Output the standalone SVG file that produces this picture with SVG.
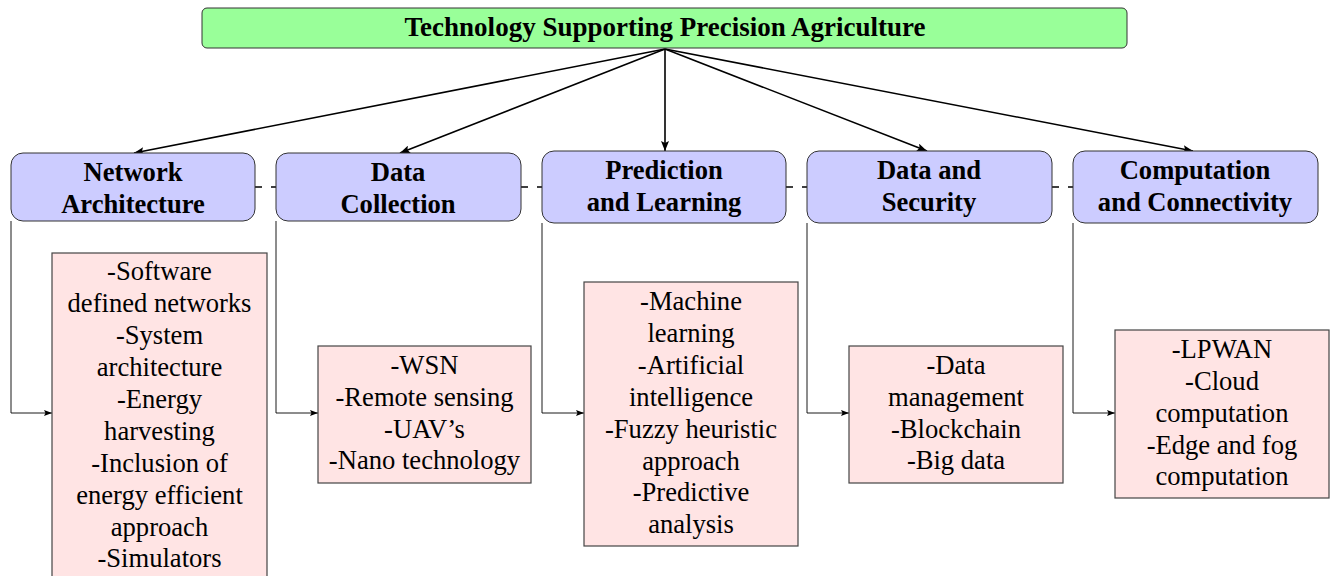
<svg xmlns="http://www.w3.org/2000/svg" width="1333" height="576" viewBox="0 0 1333 576" font-family="'Liberation Serif', Tinos, 'Times New Roman', serif">
<defs>
<marker id="ah" viewBox="0 0 10 8" refX="10" refY="4" markerWidth="10" markerHeight="8" markerUnits="userSpaceOnUse" orient="auto">
<path d="M0,0 L10,4 L0,8 L2,4 Z" fill="#000"/>
</marker>
<marker id="as" viewBox="0 0 8 6" refX="8" refY="3" markerWidth="8" markerHeight="6" markerUnits="userSpaceOnUse" orient="auto">
<path d="M0,0 L8,3 L0,6 L1.5,3 Z" fill="#000"/>
</marker>
</defs>
<style>
text{font-family:'Liberation Serif',Tinos,'Times New Roman',serif;fill:#000;text-anchor:middle}
.title{font-size:27px;font-weight:bold}
.cat{font-size:26.6px;font-weight:bold}
.item{font-size:26.6px}
.root{fill:#99ff99;stroke:#333;stroke-width:1}
.catbox{fill:#ccccff;stroke:#333;stroke-width:1}
.list{fill:#ffe4e4;stroke:#444;stroke-width:1.2}
.main{stroke:#000;stroke-width:1.6;fill:none;marker-end:url(#ah)}
.side{stroke:#000;stroke-width:0.9;fill:none;marker-end:url(#as)}
.dash{stroke:#000;stroke-width:1.6;fill:none;stroke-dasharray:7,9}
</style>
<rect width="1333" height="576" fill="#fff"/>
<g id="connectors">
<line class="main" x1="665" y1="49" x2="134" y2="153"/>
<line class="main" x1="665" y1="49" x2="400" y2="153"/>
<line class="main" x1="665" y1="49" x2="665" y2="151"/>
<line class="main" x1="665" y1="49" x2="927" y2="151"/>
<line class="main" x1="665" y1="49" x2="1193" y2="151"/>
<line class="dash" x1="255" y1="187" x2="276" y2="187"/>
<line class="dash" x1="521" y1="187" x2="542" y2="187"/>
<line class="dash" x1="786" y1="187" x2="807" y2="187"/>
<line class="dash" x1="1052" y1="187" x2="1073" y2="187"/>
<polyline class="side" points="11,221 11,413 52,413"/>
<polyline class="side" points="276,221 276,413 318,413"/>
<polyline class="side" points="542,223 542,413 584,413"/>
<polyline class="side" points="807,223 807,413 849,413"/>
<polyline class="side" points="1073,223 1073,413 1115,413"/>
</g>
<g id="root">
<rect class="root" x="202" y="8" width="925" height="40" rx="5"/>
<text class="title" x="665" y="36">Technology Supporting Precision Agriculture</text>
</g>
<g id="network-architecture">
<rect class="catbox" x="11" y="153" width="244" height="68" rx="12"/>
<text class="cat" x="133" y="181">Network</text>
<text class="cat" x="133" y="213">Architecture</text>
</g>
<g id="data-collection">
<rect class="catbox" x="276" y="153" width="245" height="68" rx="12"/>
<text class="cat" x="398" y="181">Data</text>
<text class="cat" x="398" y="213">Collection</text>
</g>
<g id="prediction-learning">
<rect class="catbox" x="542" y="151" width="244" height="72" rx="12"/>
<text class="cat" x="664" y="179">Prediction</text>
<text class="cat" x="664" y="211">and Learning</text>
</g>
<g id="data-security">
<rect class="catbox" x="807" y="151" width="245" height="72" rx="12"/>
<text class="cat" x="929" y="179">Data and</text>
<text class="cat" x="929" y="211">Security</text>
</g>
<g id="computation-connectivity">
<rect class="catbox" x="1073" y="151" width="245" height="72" rx="12"/>
<text class="cat" x="1195" y="179">Computation</text>
<text class="cat" x="1195" y="211">and Connectivity</text>
</g>
<g id="list-network">
<rect class="list" x="52" y="253" width="215" height="330"/>
<text class="item" x="159.5" y="280">-Software</text>
<text class="item" x="159.5" y="312">defined networks</text>
<text class="item" x="159.5" y="344">-System</text>
<text class="item" x="159.5" y="376">architecture</text>
<text class="item" x="159.5" y="408">-Energy</text>
<text class="item" x="159.5" y="440">harvesting</text>
<text class="item" x="159.5" y="472">-Inclusion of</text>
<text class="item" x="159.5" y="504">energy efficient</text>
<text class="item" x="159.5" y="536">approach</text>
<text class="item" x="159.5" y="567">-Simulators</text>
</g>
<g id="list-data-collection">
<rect class="list" x="318" y="346" width="213" height="137"/>
<text class="item" x="424.5" y="374">-WSN</text>
<text class="item" x="424.5" y="406">-Remote sensing</text>
<text class="item" x="424.5" y="438">-UAV’s</text>
<text class="item" x="424.5" y="469">-Nano technology</text>
</g>
<g id="list-prediction">
<rect class="list" x="584" y="282" width="214" height="264"/>
<text class="item" x="691" y="310">-Machine</text>
<text class="item" x="691" y="342">learning</text>
<text class="item" x="691" y="374">-Artificial</text>
<text class="item" x="691" y="406">intelligence</text>
<text class="item" x="691" y="438">-Fuzzy heuristic</text>
<text class="item" x="691" y="470">approach</text>
<text class="item" x="691" y="501">-Predictive</text>
<text class="item" x="691" y="533">analysis</text>
</g>
<g id="list-data-security">
<rect class="list" x="849" y="346" width="214" height="137"/>
<text class="item" x="956" y="374">-Data</text>
<text class="item" x="956" y="406">management</text>
<text class="item" x="956" y="438">-Blockchain</text>
<text class="item" x="956" y="469">-Big data</text>
</g>
<g id="list-computation">
<rect class="list" x="1115" y="330" width="214" height="168"/>
<text class="item" x="1222" y="358">-LPWAN</text>
<text class="item" x="1222" y="390">-Cloud</text>
<text class="item" x="1222" y="422">computation</text>
<text class="item" x="1222" y="454">-Edge and fog</text>
<text class="item" x="1222" y="485">computation</text>
</g>
</svg>
